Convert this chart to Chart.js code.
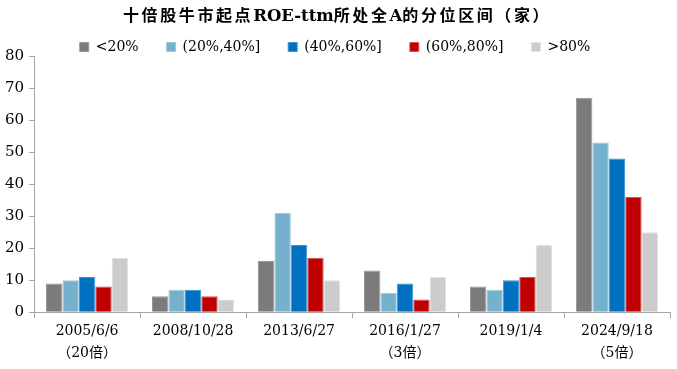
<!DOCTYPE html>
<html>
<head>
<meta charset="utf-8">
<script src="https://cdn.jsdelivr.net/npm/chart.js@4.4.1/dist/chart.umd.min.js"></script>
<style>
  html, body { margin: 0; padding: 0; background: #fff; }
  #wrap { width: 677px; height: 369px; position: relative; }
  #title {
    position: absolute; left: 123px; top: 5px; white-space: nowrap;
    font-family: "DejaVu Serif", "Noto Sans CJK SC", serif;
    font-weight: bold; font-size: 16px; line-height: 22px; color: #000;
    letter-spacing: 2.6px;
  }
  #title .lat { letter-spacing: 0; font-size: 16.5px; }
</style>
</head>
<body>
<div id="wrap">
  <div id="title">十倍股牛市起点<span class="lat">ROE-ttm</span>所处全<span class="lat">A</span>的分位区间（家）</div>
  <canvas id="chart"></canvas>
</div>
<script>
// categories (two-line labels)
var categories = [
    ['2005/6/6', '（20倍）'],
    ['2008/10/28', ''],
    ['2013/6/27', ''],
    ['2016/1/27', '（3倍）'],
    ['2019/1/4', ''],
    ['2024/9/18', '（5倍）']
];
var seriesNames = ['<20%', '(20%,40%]', '(40%,60%]', '(60%,80%]', '>80%'];
var below20 = [9, 5, 16, 13, 8, 67];
var p20to40 = [10, 7, 31, 6, 7, 53];
var p40to60 = [11, 7, 21, 9, 10, 48];
var p60to80 = [8, 5, 17, 4, 11, 36];
var above80 = [17, 4, 10, 11, 21, 25];
var yTicks = [0, 10, 20, 30, 40, 50, 60, 70, 80];

var colors = ['#7b7b7b', '#75b1cd', '#0070c0', '#c00000', '#cccccc'];
var borders = ['#999999', '#9ccbe0', '#3b93d6', '#e05050', '#e2e2e2'];
var allSeries = [below20, p20to40, p40to60, p60to80, above80];

var serif = '"DejaVu Serif", "Noto Sans CJK SC", serif';
var axisColor = '#a6a6a6';

// shrink the legend block a little so the plot starts where the original does
var legendTrim = {
    id: 'legendTrim',
    afterInit: function (chart) {
        var lg = chart.legend;
        var fit = lg.fit;
        lg.fit = function () {
            fit.call(this);
            this.height -= 8;
        };
    }
};

var ctx = document.getElementById('chart').getContext('2d');
var chart = new Chart(ctx, {
    type: 'bar',
    data: {
        labels: categories,
        datasets: allSeries.map(function (vals, i) {
            return {
                label: seriesNames[i],
                data: vals,
                backgroundColor: colors[i],
                borderColor: borders[i],
                borderWidth: 1,
                categoryPercentage: 0.775,
                barPercentage: 1.0
            };
        })
    },
    options: {
        responsive: true,
        maintainAspectRatio: false,
        animation: false,
        layout: { padding: { left: 0, right: 7, top: 12, bottom: 2 } },
        plugins: {
            title: { display: false },
            legend: {
                display: true,
                labels: {
                    color: '#000',
                    boxWidth: 9,
                    boxHeight: 9,
                    padding: 28,
                    font: { family: serif, size: 14 }
                }
            },
            tooltip: { enabled: false }
        },
        scales: {
            x: {
                grid: { display: true, drawOnChartArea: false, drawTicks: true, tickLength: 6, color: axisColor, offset: true },
                border: { display: true, color: axisColor, width: 1 },
                ticks: {
                    color: '#000',
                    font: { family: serif, size: 14, lineHeight: 1.6 },
                    maxRotation: 0,
                    padding: 2
                }
            },
            y: {
                min: 0,
                max: 80,
                afterBuildTicks: function (axis) {
                    axis.ticks = yTicks.map(function (v) { return { value: v }; });
                },
                grid: { display: true, drawOnChartArea: false, drawTicks: true, tickLength: 5, color: axisColor },
                border: { display: true, color: axisColor, width: 1 },
                ticks: {
                    color: '#000',
                    font: { family: serif, size: 15 },
                    padding: 5
                }
            }
        }
    },
    plugins: [legendTrim]
});
</script>
</body>
</html>
